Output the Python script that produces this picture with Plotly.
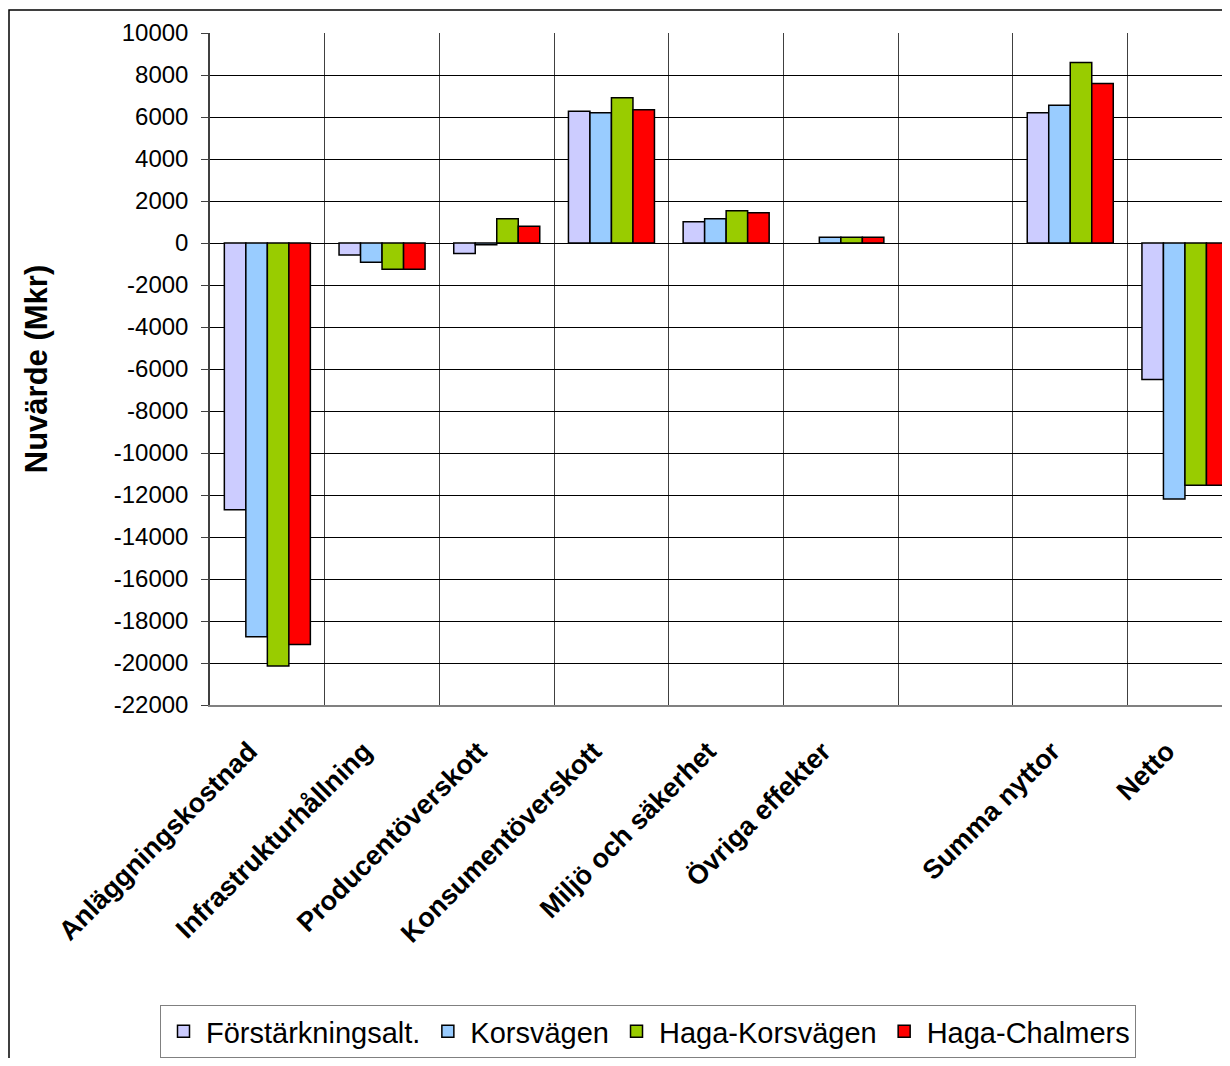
import plotly.graph_objects as go

categories = ["Anläggningskostnad", "Infrastrukturhållning", "Producentöverskott",
              "Konsumentöverskott", "Miljö och säkerhet", "Övriga effekter", " ",
              "Summa nyttor", "Netto"]
series_names = ["Förstärkningsalt.", "Korsvägen", "Haga-Korsvägen", "Haga-Chalmers"]
forstarkning = [-12700, -570, -500, 6270, 1010, None, None, 6200, -6500]
korsvagen = [-18750, -920, -80, 6200, 1160, 270, None, 6560, -12190]
haga_korsvagen = [-20140, -1250, 1160, 6920, 1540, 270, None, 8600, -11540]
haga_chalmers = [-19120, -1250, 800, 6350, 1440, 270, None, 7590, -11540]
colors = ["#CCCCFF", "#99CCFF", "#99CC00", "#FF0000"]
ytick_vals = list(range(-22000, 10001, 2000))

FONT = "Liberation Sans, Arial, sans-serif"

fig = go.Figure()
for name, vals, col in zip(series_names,
                           [forstarkning, korsvagen, haga_korsvagen, haga_chalmers],
                           colors):
    fig.add_trace(go.Bar(x=categories, y=vals, name=name,
                         marker=dict(color=col, line=dict(color="#000000", width=1.5))))

OFF = 8  # page body margin
W, H = 1230 - 2 * OFF, 1066 - 2 * OFF
L = 210 - OFF
T = 33 - OFF
PB = 705 - OFF
PW = W - L
PH = PB - T

fig.update_layout(
    width=W, height=H,
    margin=dict(l=L, r=0, t=T, b=H - PB, autoexpand=False),
    paper_bgcolor="white", plot_bgcolor="white",
    barmode="group", bargap=0.25, bargroupgap=0,
    font=dict(family=FONT, color="#000000"),
    showlegend=True,
    legend=dict(orientation="h", x=(160 - OFF - L) / PW, xanchor="left",
                y=(PB - (1005 - OFF)) / PH, yanchor="top",
                font=dict(family=FONT, size=29, color="#000000"),
                bordercolor="#808080", borderwidth=1, bgcolor="white",
                itemwidth=35, traceorder="normal", tracegroupgap=0),
)
fig.update_xaxes(
    type="category", categoryorder="array", categoryarray=categories,
    range=[-0.5, -0.5 + PW / 114.7],
    tickson="boundaries", showgrid=True, gridcolor="#404040", gridwidth=1,
    showline=True, linecolor="#808080", linewidth=1.5,
    ticks="", tickangle=-45,
    tickfont=dict(family=FONT, size=27, color="#000000", weight="bold"),
    ticklabelstandoff=18, ticklabelshift=-18,
)
fig.update_yaxes(
    range=[-22000, 10000], tickvals=ytick_vals,
    ticktext=[str(v) for v in ytick_vals],
    showgrid=True, gridcolor="#000000", gridwidth=1,
    zeroline=True, zerolinecolor="#000000", zerolinewidth=1,
    showline=True, linecolor="#404040", linewidth=1.5,
    ticks="outside", ticklen=7, tickcolor="#404040",
    tickfont=dict(family=FONT, size=24, color="#000000"),
    ticklabelstandoff=8,
    title=dict(text="Nuvärde (Mkr)", standoff=57,
               font=dict(family=FONT, size=31, color="#000000", weight="bold")),
)
# outer chart frame
fig.add_shape(type="rect", xref="paper", yref="paper",
              x0=(9 - OFF - L) / PW, x1=1.05, y0=-1.0, y1=(PB - (10 - OFF)) / PH,
              line=dict(color="#000000", width=1.5), fillcolor="rgba(0,0,0,0)",
              layer="below")
fig.write_html("out.html")
